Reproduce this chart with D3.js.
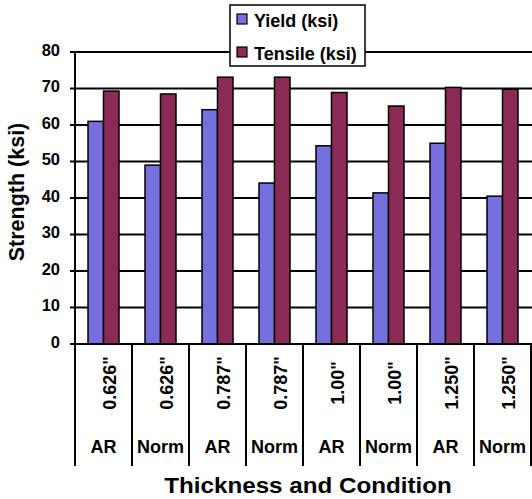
<!DOCTYPE html>
<html>
<head>
<meta charset="utf-8">
<script src="https://cdn.jsdelivr.net/npm/d3@7"></script>
<style>
  body { margin: 0; background: #fff; }
  text { font-family: "Liberation Sans", Arial, sans-serif; font-weight: bold; fill: #000; }
</style>
</head>
<body>
<div id="chart"></div>
<script>
// data
var thickness = ['0.626"', '0.626"', '0.787"', '0.787"', '1.00"', '1.00"', '1.250"', '1.250"'];
var condition = ["AR", "Norm", "AR", "Norm", "AR", "Norm", "AR", "Norm"];
var yieldKsi = [61.0, 49.0, 64.2, 44.1, 54.3, 41.4, 55.0, 40.5];
var tensileKsi = [69.3, 68.5, 73.1, 73.1, 68.9, 65.2, 70.3, 69.8];
var seriesNames = ["Yield (ksi)", "Tensile (ksi)"];
var yTicks = [0, 10, 20, 30, 40, 50, 60, 70, 80];

var colors = ["#7570de", "#8c2a56"];

var W = 532, H = 499;
var margin = {top: 52, right: 0, bottom: 155, left: 75};
var width = W - margin.left - margin.right + 1,
    height = H - margin.top - margin.bottom; // 292

var svg = d3.select("#chart").append("svg")
  .attr("width", W)
  .attr("height", H);

var g = svg.append("g")
  .attr("transform", `translate(${margin.left}, ${margin.top})`);

var idx = d3.range(thickness.length);

var x = d3.scaleBand()
  .domain(idx)
  .range([0, 456]);

var xs = d3.scaleBand()
  .domain([0, 1])
  .range([0, 31]);

var y = d3.scaleLinear()
  .domain([0, 80])
  .range([height, 0]);

// gridlines
g.selectAll(".grid")
  .data(yTicks)
  .enter().append("line")
  .attr("x1", -5)
  .attr("x2", width)
  .attr("y1", d => y(d))
  .attr("y2", d => y(d))
  .attr("stroke", "#000")
  .attr("stroke-width", 2);

// y tick labels
g.selectAll(".ylab")
  .data(yTicks)
  .enter().append("text")
  .attr("x", -15)
  .attr("y", d => y(d) - 2)
  .attr("dy", "0.35em")
  .attr("text-anchor", "end")
  .style("font-size", "16.5px")
  .text(d => d);

// bars
var groups = g.selectAll(".cat")
  .data(idx)
  .enter().append("g")
  .attr("transform", d => `translate(${x(d) + (x.bandwidth() - 31) / 2}, 0)`);

groups.selectAll("rect")
  .data(d => [yieldKsi[d], tensileKsi[d]])
  .enter().append("rect")
  .attr("x", (d, i) => xs(i))
  .attr("y", d => y(d))
  .attr("width", xs.bandwidth())
  .attr("height", d => height - y(d))
  .attr("fill", (d, i) => colors[i])
  .attr("stroke", "#000")
  .attr("stroke-width", 1.5);

// category dividers below axis
var catBottom = height + 122;
g.selectAll(".div")
  .data(d3.range(thickness.length + 1))
  .enter().append("line")
  .attr("x1", d => d * x.step())
  .attr("x2", d => d * x.step())
  .attr("y1", height)
  .attr("y2", catBottom)
  .attr("stroke", "#000")
  .attr("stroke-width", 2);

// y axis line
g.append("line")
  .attr("x1", 0).attr("x2", 0)
  .attr("y1", 0).attr("y2", catBottom)
  .attr("stroke", "#000")
  .attr("stroke-width", 2);

// redraw zero line on top
g.append("line")
  .attr("x1", -5).attr("x2", width)
  .attr("y1", height).attr("y2", height)
  .attr("stroke", "#000")
  .attr("stroke-width", 2);

// thickness labels (rotated)
g.selectAll(".thk")
  .data(idx)
  .enter().append("text")
  .attr("transform", d => `translate(${x(d) + x.bandwidth() / 2 + 12}, ${height + 39}) rotate(-90)`)
  .attr("text-anchor", "middle")
  .style("font-size", "18px")
  .text(d => thickness[d]);

// condition labels
g.selectAll(".cond")
  .data(idx)
  .enter().append("text")
  .attr("x", d => x(d) + x.bandwidth() / 2)
  .attr("y", height + 109)
  .attr("text-anchor", "middle")
  .style("font-size", "18px")
  .text(d => condition[d]);

// axis titles
svg.append("text")
  .attr("transform", "translate(308, 493) scale(1.1, 1)")
  .attr("text-anchor", "middle")
  .style("font-size", "22px")
  .text("Thickness and Condition");

svg.append("text")
  .attr("transform", "translate(24, 192) rotate(-90)")
  .attr("text-anchor", "middle")
  .style("font-size", "21.5px")
  .text("Strength (ksi)");

// legend
var legend = svg.append("g").attr("transform", "translate(230, 5)");
legend.append("rect")
  .attr("width", 135)
  .attr("height", 61)
  .attr("fill", "#fff")
  .attr("stroke", "#000")
  .attr("stroke-width", 1.5);

var items = legend.selectAll(".item")
  .data(seriesNames)
  .enter().append("g")
  .attr("transform", (d, i) => `translate(7, ${9 + i * 33})`);

items.append("rect")
  .attr("width", 10)
  .attr("height", 10)
  .attr("fill", (d, i) => colors[i])
  .attr("stroke", "#000")
  .attr("stroke-width", 1.2);

items.append("text")
  .attr("x", 17)
  .attr("y", 13)
  .style("font-size", "18px")
  .text(d => d);
</script>
</body>
</html>
